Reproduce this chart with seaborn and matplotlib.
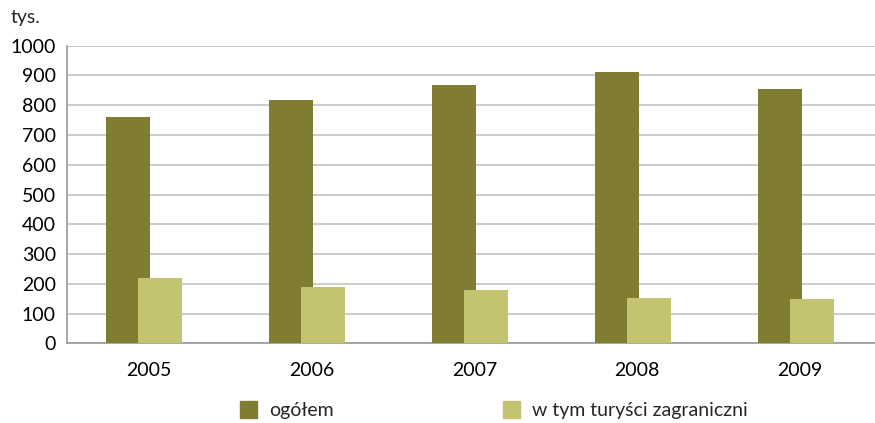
import pandas as pd
import matplotlib
matplotlib.use("Agg")
import matplotlib.pyplot as plt
import seaborn as sns

years = ["2005", "2006", "2007", "2008", "2009"]
ogolem = [760, 818, 868, 910, 855]
zagraniczni = [220, 190, 180, 153, 149]
series_names = ["ogółem", "w tym turyści zagraniczni"]
colors = ["#807d33", "#c4c470"]

df = pd.DataFrame({
    "rok": years * 2,
    "wartosc": ogolem + zagraniczni,
    "seria": [series_names[0]] * len(years) + [series_names[1]] * len(years),
})

sns.set_style("white")
plt.rcParams["font.family"] = ["Lato", "DejaVu Sans"]

fig = plt.figure(figsize=(8.75, 4.23), dpi=100)
ax = fig.add_axes([0.0766, 0.188, 0.931, 0.704])

sns.barplot(data=df, x="rok", y="wartosc", hue="seria", palette=colors,
            width=0.54, saturation=1, ax=ax, legend=False, zorder=3)

# bars in each pair overlap slightly, group sits a bit left of the tick
shift = 0.037
group_off = -0.028
n = len(years)
for i, p in enumerate(ax.patches[:2 * n]):
    p.set_x(p.get_x() + group_off + (shift if i < n else -shift))
    p.set_linewidth(0)

ax.set_ylim(0, 1000)
ax.set_yticks(range(0, 1001, 100))
ax.set_xlim(-0.5, n - 0.5)
ax.yaxis.grid(True, color="#c4c4c4", linewidth=1.2, zorder=0)
ax.set_xlabel("")
ax.set_ylabel("")
ax.tick_params(axis="both", length=0, labelsize=14, colors="black")
ax.tick_params(axis="x", pad=13)
ax.tick_params(axis="y", pad=8)
for s in ["top", "right"]:
    ax.spines[s].set_visible(False)
for s in ["left", "bottom"]:
    ax.spines[s].set_color("#9a9a9a")
    ax.spines[s].set_linewidth(1.2)

fig.text(0.012, 0.958, "tys.", fontsize=14, va="center", ha="left")

# legend below the chart
handles = [plt.Rectangle((0, 0), 1, 1, color=c) for c in colors]
fig.legend(handles, series_names, loc="center left", bbox_to_anchor=(0.274, 0.03),
           ncol=2, frameon=False, fontsize=14, handlelength=0.9, handleheight=0.9,
           columnspacing=8.7, handletextpad=0.6, borderaxespad=0, borderpad=0)

fig.savefig("out.png", dpi=100)
